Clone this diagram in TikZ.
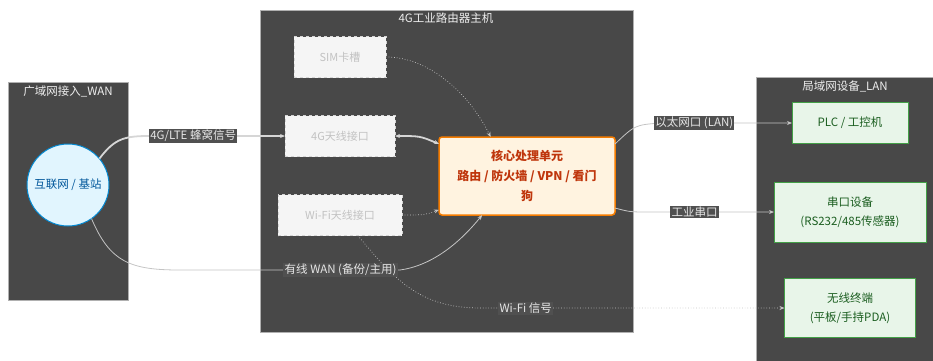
\documentclass[tikz,border=0pt]{standalone}
\usepackage{fontspec}
\setmainfont{Noto Sans CJK SC}
\usetikzlibrary{arrows.meta}

\begin{document}
\begin{tikzpicture}[y=1pt, x=1pt, yscale=-1, inner sep=0pt, outer sep=0pt,
  >={Stealth[length=5pt,width=4pt]},
  cluster/.style={draw=clborder, fill=clfill, line width=0.6pt},
  cltitle/.style={text=cltext, font=\fontsize{11.5}{13}\selectfont},
  idle/.style={draw=idleborder, fill=idlefill, dashed, line width=0.6pt, text=idletext,
    font=\fontsize{11}{13}\selectfont},
  device/.style={draw=devborder, fill=devfill, line width=1pt, text=devtext, align=center,
    font=\fontsize{11.5}{19}\selectfont},
  lbl/.style={fill=lblfill, text=lbltext, inner sep=1.2pt, font=\fontsize{11.5}{13}\selectfont},
  link/.style={draw=linkcol, line width=0.8pt},
  fatlink/.style={draw=fatcol, line width=1.8pt},
  dotlink/.style={draw=linkcol, line width=0.7pt, dotted}]
\definecolor{clfill}{HTML}{484848}
\definecolor{clborder}{HTML}{B0B0B0}
\definecolor{cltext}{HTML}{EEEEEE}
\definecolor{idlefill}{HTML}{F5F5F5}
\definecolor{idleborder}{HTML}{D5D5D5}
\definecolor{idletext}{HTML}{C2C2C2}
\definecolor{devfill}{HTML}{E8F5E9}
\definecolor{devborder}{HTML}{43A047}
\definecolor{devtext}{HTML}{1B5E20}
\definecolor{lblfill}{HTML}{505050}
\definecolor{lbltext}{HTML}{E6E6E6}
\definecolor{linkcol}{HTML}{C4C4C4}
\definecolor{fatcol}{HTML}{D6D6D6}
\definecolor{corefill}{HTML}{FFF3E0}
\definecolor{coreborder}{HTML}{F57C00}
\definecolor{coretext}{HTML}{BF360C}
\definecolor{netfill}{HTML}{E1F5FE}
\definecolor{netborder}{HTML}{0288D1}
\definecolor{nettext}{HTML}{01579B}
\useasboundingbox (0,0) rectangle (933,360);
% clusters
\path[cluster] (8,82) rectangle (128,300);
\node[cltitle] (wantitle) at (68,91) {广域网接入\_WAN};
\path[cluster] (260,10) rectangle (633,332);
\node[cltitle] (hosttitle) at (446,18) {4G工业路由器主机};
\path[cluster] (756,77) rectangle (934,362);
\node[cltitle] (lantitle) at (845,86) {局域网设备\_LAN};
% WAN side
\node [circle, draw=netborder, fill=netfill, line width=1pt, minimum size=82pt, text=nettext,
  font=\fontsize{11.5}{13}\selectfont] (net) at (68,185) {互联网 / 基站};
% router parts
\node [idle, minimum width=92pt, minimum height=41pt] (sim) at (340,57) {SIM卡槽};
\node [idle, minimum width=110pt, minimum height=41pt] (ant4g) at (340,136) {4G天线接口};
\node [idle, minimum width=124pt, minimum height=41pt] (antwifi) at (340,215) {Wi-Fi天线接口};
\node [draw=coreborder, fill=corefill, line width=1.5pt, rounded corners=3pt, text=coretext,
  align=center, minimum width=176pt, minimum height=78pt,
  font=\bfseries\fontsize{12}{20}\selectfont] (core) at (527,176)
  {核心处理单元\\路由 / 防火墙 / VPN / 看门\\狗};
% LAN devices
\node [device, minimum width=116pt, minimum height=41pt] (plc) at (850,123) {PLC / 工控机};
\node [device, minimum width=152pt, minimum height=60pt] (serial) at (850,212) {串口设备\\(RS232/485传感器)};
\node [device, minimum width=131pt, minimum height=59pt] (wireless) at (850,308) {无线终端\\(平板/手持PDA)};
% links
\draw [fatlink,->] (net.40) .. controls (115,138) and (125,136) .. (150,136)
  -- node[lbl, pos=0.32] {4G/LTE 蜂窝信号} (ant4g.west);
\draw [fatlink,<->] (ant4g.east) .. controls (420,136) .. (core.160);
\draw [dotlink,->] (sim.east) .. controls (430,57) and (470,95) .. (core.133);
\draw [dotlink,->] (antwifi.east) .. controls (425,215) .. (core.201);
\draw [dotlink,->] (antwifi.311) .. controls (395,280) and (420,308) .. (480,308)
  -- node[lbl, pos=0.15] {Wi-Fi 信号} (wireless.west);
\draw [link,->] (net.-55) .. controls (110,262) and (130,270) .. (180,270)
  -- node[lbl, pos=0.73] {有线 WAN (备份/主用)} (400,270)
  .. controls (430,266) and (458,245) .. (core.221);
\draw [link,->] (core.20) .. controls (635,125) .. (660,123)
  -- node[lbl, pos=0.26] {以太网口 (LAN)} (plc.west);
\draw [link,->] (core.-20) .. controls (630,212) .. (650,212)
  -- node[lbl, pos=0.36] {工业串口} (serial.west);
\end{tikzpicture}
\end{document}
